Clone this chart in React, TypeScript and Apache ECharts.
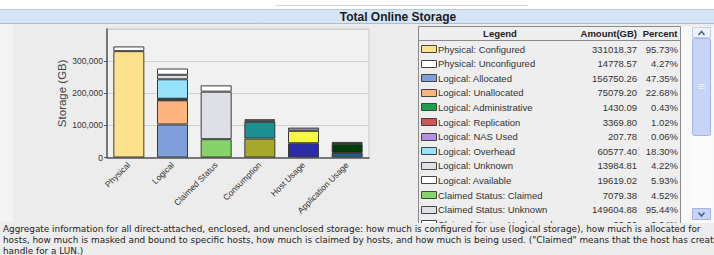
import React, { useEffect, useRef } from "react";
import * as echarts from "echarts";

// ---------- data ----------
const categories = ["Physical", "Logical", "Claimed Status", "Consumption", "Host Usage", "Application Usage"];
const physicalValues = [331018, 14779];
const logicalValues = [102800, 75079, 1430, 3370, 208, 60577, 13985, 19619];
const claimedValues = [57000, 148000, 19500];
const consumptionValues = [59000, 52000, 4500, 3000];
const hostValues = [44500, 38500, 10000];
const applicationValues = [14000, 28000, 6500];
const yTickValues = [0, 100000, 200000, 300000, 400000];

const legendLabels = [
  "Physical: Configured",
  "Physical: Unconfigured",
  "Logical: Allocated",
  "Logical: Unallocated",
  "Logical: Administrative",
  "Logical: Replication",
  "Logical: NAS Used",
  "Logical: Overhead",
  "Logical: Unknown",
  "Logical: Available",
  "Claimed Status: Claimed",
  "Claimed Status: Unknown",
  "Claimed Status: Unclaimed",
];
const legendAmounts = [
  "331018.37", "14778.57", "156750.26", "75079.20", "1430.09", "3369.80", "207.78",
  "60577.40", "13984.81", "19619.02", "7079.38", "149604.88", "66.00",
];
const legendPercents = [
  "95.73%", "4.27%", "47.35%", "22.68%", "0.43%", "1.02%", "0.06%",
  "18.30%", "4.22%", "5.93%", "4.52%", "95.44%", "0.04%",
];
const titleText = "Total Online Storage";
const descriptionLines = [
  "Aggregate information for all direct-attached, enclosed, and unenclosed storage: how much is configured for use (logical storage), how much is allocated for",
  "hosts, how much is masked and bound to specific hosts, how much is claimed by hosts, and how much is being used. (\"Claimed\" means that the host has created a",
  "handle for a LUN.)",
];

// ---------- styles ----------
const stackValues = [physicalValues, logicalValues, claimedValues, consumptionValues, hostValues, applicationValues];
const stackColors = [
  ["#fee18c", "#ffffff"],
  ["#7f9fda", "#fcb47c", "#1a9f4f", "#d35454", "#b68ee6", "#96e2fa", "#dde0e5", "#ffffff"],
  ["#86d36a", "#dde0e5", "#ffffff"],
  ["#a6a82b", "#1a9090", "#ffffff", "#9a9a9a"],
  ["#2c2ca8", "#f8f83e", "#a0a0a0"],
  ["#1a6494", "#003c0c", "#7a7a7a"],
];
const legendColors = [
  "#fee18c", "#ffffff", "#7f9fda", "#fcb47c", "#1a9f4f", "#d35454", "#b68ee6",
  "#96e2fa", "#dde0e5", "#ffffff", "#86d36a", "#dde0e5", "#ffffff",
];

const BG = "#ececec";

function buildOption(): any {
  const maxSeg = Math.max(...stackValues.map((s) => s.length));
  const series: any[] = [];
  for (let j = 0; j < maxSeg; j++) {
    series.push({
      type: "bar",
      stack: "total",
      barWidth: 31,
      itemStyle: { borderColor: "#3a3a3a", borderWidth: 1 },
      data: categories.map((_, i) =>
        stackValues[i][j] !== undefined
          ? { value: stackValues[i][j], itemStyle: { color: stackColors[i][j] } }
          : "-"
      ),
    });
  }

  const g: any[] = [];
  // top white strip + line
  g.push({ type: "rect", shape: { x: 0, y: 0, width: 714, height: 9.5 }, style: { fill: "#ffffff" }, silent: true });
  g.push({ type: "line", shape: { x1: 276, y1: 5.5, x2: 528, y2: 5.5 }, style: { stroke: "#d2d2d2", lineWidth: 1 } });
  // title band
  g.push({ type: "rect", shape: { x: 0, y: 9.5, width: 714, height: 14 }, style: { fill: "#d5e5f6" } });
  g.push({ type: "line", shape: { x1: 0, y1: 9.5, x2: 714, y2: 9.5 }, style: { stroke: "#b9cbdf", lineWidth: 1 } });
  g.push({ type: "line", shape: { x1: 0, y1: 23.5, x2: 714, y2: 23.5 }, style: { stroke: "#a9bed4", lineWidth: 1 } });
  g.push({
    type: "text", x: 398, y: 16.8,
    style: { text: titleText, fill: "#1a1a1a", font: "bold 12px 'Liberation Sans', Arial, sans-serif", align: "center", verticalAlign: "middle" },
  });
  // left light strip
  g.push({ type: "rect", shape: { x: 0, y: 24, width: 13, height: 198 }, style: { fill: "#f3f3f3" } });

  // table
  const tX = 418.5, tR = 680.5, tTop = 26.5, hdrB = 40.5, tBot = 224;
  const rowY0 = 49, rowH = 14.6;
  g.push({ type: "rect", shape: { x: tR, y: tTop, width: 714 - tR, height: tBot - tTop }, style: { fill: "#f8f8f8" } });
  g.push({ type: "rect", shape: { x: tX, y: tTop, width: tR - tX, height: tBot - tTop }, style: { fill: "#eeeeee" } });
  g.push({ type: "line", shape: { x1: tX, y1: tTop, x2: tR, y2: tTop }, style: { stroke: "#8a8a8a", lineWidth: 1 } });
  g.push({ type: "line", shape: { x1: tX, y1: hdrB, x2: tR, y2: hdrB }, style: { stroke: "#8a8a8a", lineWidth: 1 } });
  g.push({ type: "line", shape: { x1: tX, y1: tTop, x2: tX, y2: tBot }, style: { stroke: "#8a8a8a", lineWidth: 1 } });
  g.push({ type: "line", shape: { x1: tR, y1: tTop, x2: tR, y2: tBot }, style: { stroke: "#8a8a8a", lineWidth: 1 } });
  const hdrFont = "bold 9.5px 'Liberation Sans', Arial, sans-serif";
  const rowFont = "9.5px 'Liberation Sans', Arial, sans-serif";
  g.push({ type: "text", x: 500, y: 33.8, style: { text: "Legend", font: hdrFont, fill: "#222", align: "center", verticalAlign: "middle" } });
  g.push({ type: "text", x: 637, y: 33.8, style: { text: "Amount(GB)", font: hdrFont, fill: "#222", align: "right", verticalAlign: "middle" } });
  g.push({ type: "text", x: 677.5, y: 33.8, style: { text: "Percent", font: hdrFont, fill: "#222", align: "right", verticalAlign: "middle" } });
  legendLabels.forEach((lab, k) => {
    const cy = rowY0 + k * rowH;
    g.push({ type: "rect", shape: { x: 421.5, y: Math.round(cy - 4) + 0.5, width: 15, height: 7 }, style: { fill: legendColors[k], stroke: "#444", lineWidth: 1 } });
    g.push({ type: "text", x: 438, y: cy, style: { text: lab, font: rowFont, fill: "#333", align: "left", verticalAlign: "middle" } });
    g.push({ type: "text", x: 637, y: cy, style: { text: legendAmounts[k], font: rowFont, fill: "#333", align: "right", verticalAlign: "middle" } });
    g.push({ type: "text", x: 678, y: cy, style: { text: legendPercents[k], font: rowFont, fill: "#333", align: "right", verticalAlign: "middle" } });
  });
  // scrollbar
  const sx = 692, sw = 19;
  g.push({ type: "rect", shape: { x: sx, y: 26.5, width: sw, height: 194 }, style: { fill: "#fbfbfb" } });
  g.push({ type: "rect", shape: { x: sx + 0.5, y: 27.5, width: sw - 1, height: 10 }, style: { fill: "#eef2fd", stroke: "#c3cde9", lineWidth: 1 } });
  g.push({ type: "polyline", shape: { points: [[sx + 6.5, 35], [sx + 9.5, 31.5], [sx + 12.5, 35]] }, style: { stroke: "#4d6185", lineWidth: 1.5, fill: "none" } });
  g.push({ type: "rect", shape: { x: sx + 0.5, y: 38.5, width: sw - 1, height: 97, r: 2 }, style: { fill: "#c7d4f8", stroke: "#a3b4e0", lineWidth: 1 } });
  [84.5, 86.5, 88.5].forEach((yy) =>
    g.push({ type: "line", shape: { x1: sx + 6, y1: yy, x2: sx + 13, y2: yy }, style: { stroke: "#e8eeff", lineWidth: 1 } })
  );
  g.push({ type: "rect", shape: { x: sx + 0.5, y: 208.5, width: sw - 1, height: 11 }, style: { fill: "#c7d4f8", stroke: "#a3b4e0", lineWidth: 1 } });
  g.push({ type: "polyline", shape: { points: [[sx + 6.5, 212.5], [sx + 9.5, 216], [sx + 12.5, 212.5]] }, style: { stroke: "#4d6185", lineWidth: 1.5, fill: "none" } });

  // description area covering the clipped table row
  g.push({ type: "rect", shape: { x: 0, y: 223, width: 714, height: 32 }, style: { fill: BG } });
  descriptionLines.forEach((ln, k) => {
    g.push({
      type: "text", x: 3, y: 229 + k * 11,
      style: { text: ln, font: "8.9px 'DejaVu Sans', Verdana, sans-serif", fill: "#222", align: "left", verticalAlign: "middle" },
    });
  });

  return {
    animation: false,
    backgroundColor: BG,
    grid: {
      left: 107, right: 345, top: 29, bottom: 97.5,
      show: true, backgroundColor: "#f1f1f1", borderColor: "#c8c8c8", borderWidth: 1,
    },
    xAxis: {
      type: "category",
      data: categories,
      axisLine: { lineStyle: { color: "#555", width: 1.5 } },
      axisTick: { alignWithLabel: true, length: 4, lineStyle: { color: "#555" } },
      axisLabel: {
        interval: 0, rotate: 45, fontSize: 8.5, color: "#333", margin: 6,
        fontFamily: "'Liberation Sans', Arial, sans-serif",
      },
    },
    yAxis: {
      type: "value",
      min: yTickValues[0],
      max: yTickValues[yTickValues.length - 1],
      interval: yTickValues[1] - yTickValues[0],
      name: "Storage (GB)",
      nameLocation: "middle",
      nameGap: 36,
      nameTextStyle: { fontSize: 11.5, color: "#444", fontFamily: "'Liberation Sans', Arial, sans-serif" },
      axisLine: { show: true, lineStyle: { color: "#555", width: 1.5 } },
      axisTick: { show: true, length: 3, lineStyle: { color: "#555" } },
      axisLabel: {
        showMaxLabel: false, fontSize: 8.5, color: "#333", margin: 4,
        fontFamily: "'Liberation Sans', Arial, sans-serif",
        formatter: (v: number) => v.toLocaleString("en-US"),
      },
      splitLine: { lineStyle: { color: "#d0d0d0" } },
    },
    series,
    graphic: { elements: g },
  };
}

export default function App() {
  const ref = useRef<HTMLDivElement>(null);
  useEffect(() => {
    if (!ref.current) return;
    const chart = echarts.init(ref.current, undefined, { renderer: "svg" });
    chart.setOption(buildOption());
    return () => chart.dispose();
  }, []);
  return <div ref={ref} style={{ position: "fixed", left: 0, top: 0, width: 714, height: 255 }} />;
}
